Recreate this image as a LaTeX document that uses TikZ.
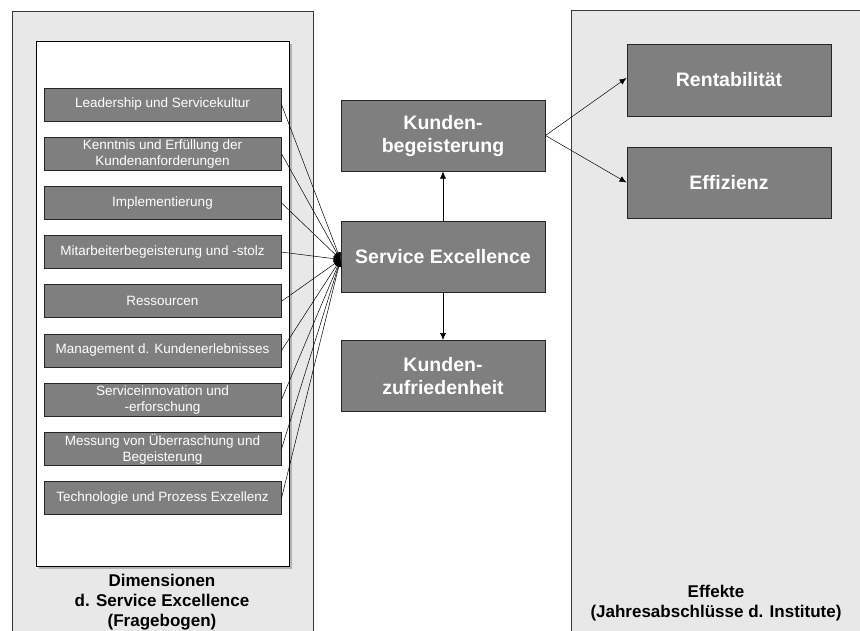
\documentclass[tikz,border=0pt]{standalone}
\usepackage{fontspec}
\setmainfont{Liberation Sans}
\usetikzlibrary{arrows.meta}
\definecolor{panelgray}{HTML}{E8E8E8}
\definecolor{boxgray}{HTML}{7F7F7F}
\definecolor{edgegray}{HTML}{3A3A3A}
\tikzset{
  panel/.style={draw=edgegray, line width=0.9pt, fill=panelgray},
  dimbox/.style={draw=black!85, line width=1pt, fill=boxgray, text=white,
    minimum width=237pt, minimum height=33pt, inner sep=0pt, align=center,
    font=\fontsize{13.5}{16}\selectfont},
  bigbox/.style={draw=black!85, line width=1pt, fill=boxgray, text=white,
    minimum width=204pt, minimum height=71pt, inner sep=0pt, align=center,
    font=\fontsize{19.5}{23}\selectfont\bfseries},
  conn/.style={draw=black, line width=0.5pt, -{Latex[length=7pt,width=6pt]}},
  caption/.style={align=center, font=\fontsize{17}{20}\selectfont\bfseries}
}
\begin{document}
\begin{tikzpicture}[x=1pt,y=-1pt]
\useasboundingbox (0,0) rectangle (860,630);
\clip (0,0) rectangle (860,630);
\fill[white] (0,0) rectangle (860,630);
% panels
\draw[panel] (12,11) rectangle (313,645);
\draw[panel] (571,10) rectangle (875,645);
\fill[black!30] (39,44) rectangle (292,569);
\draw[black, line width=0.9pt, fill=white] (36,41) rectangle (289,566);
% dimension boxes
\node[dimbox] (d1) at (162.5,104.5) {Leadership und Servicekultur};
\node[dimbox] (d2) at (162.5,153.7) {Kenntnis und Erfüllung der\\Kundenanforderungen};
\node[dimbox] (d3) at (162.5,202.9) {Implementierung};
\node[dimbox] (d4) at (162.5,252.1) {Mitarbeiterbegeisterung und -stolz};
\node[dimbox] (d5) at (162.5,301.3) {Ressourcen};
\node[dimbox] (d6) at (162.5,350.5) {Management d. Kundenerlebnisses};
\node[dimbox] (d7) at (162.5,399.7) {Serviceinnovation und\\-erforschung};
\node[dimbox] (d8) at (162.5,448.9) {Messung von Überraschung und\\Begeisterung};
\node[dimbox] (d9) at (162.5,498.1) {Technologie und Prozess Exzellenz};
% central boxes
\node[bigbox] (kb) at (443,135.5) {Kunden-\\begeisterung};
\node[bigbox] (se) at (443,256.5) {Service Excellence};
\node[bigbox] (kz) at (443,376) {Kunden-\\zufriedenheit};
% effect boxes
\node[bigbox, minimum height=72pt] (re) at (729,80) {Rentabilität};
\node[bigbox] (ef) at (729,182.5) {Effizienz};
% captions
\node[caption] (capl) at (162,602.5) {Dimensionen\\d. Service Excellence\\(Fragebogen)};
\node[caption] (capr) at (716,603) {Effekte\\(Jahresabschlüsse d. Institute)};
% connectors
\coordinate (hub) at ([yshift=-3pt]se.west);
\foreach \i in {1,...,9} {
  \draw[conn] (d\i.east) -- (hub);
}
\begin{scope}
  \clip ([xshift=-10pt,yshift=-10pt]hub) rectangle ([yshift=10pt]hub);
  \fill[black] (hub) ellipse [x radius=6pt, y radius=7.5pt];
\end{scope}
\draw[conn] (se.north) -- (kb.south);
\draw[conn] (se.south) -- (kz.north);
\draw[conn] (kb.east) -- ([yshift=2pt]re.west);
\draw[conn] (kb.east) -- (ef.west);
\end{tikzpicture}
\end{document}
